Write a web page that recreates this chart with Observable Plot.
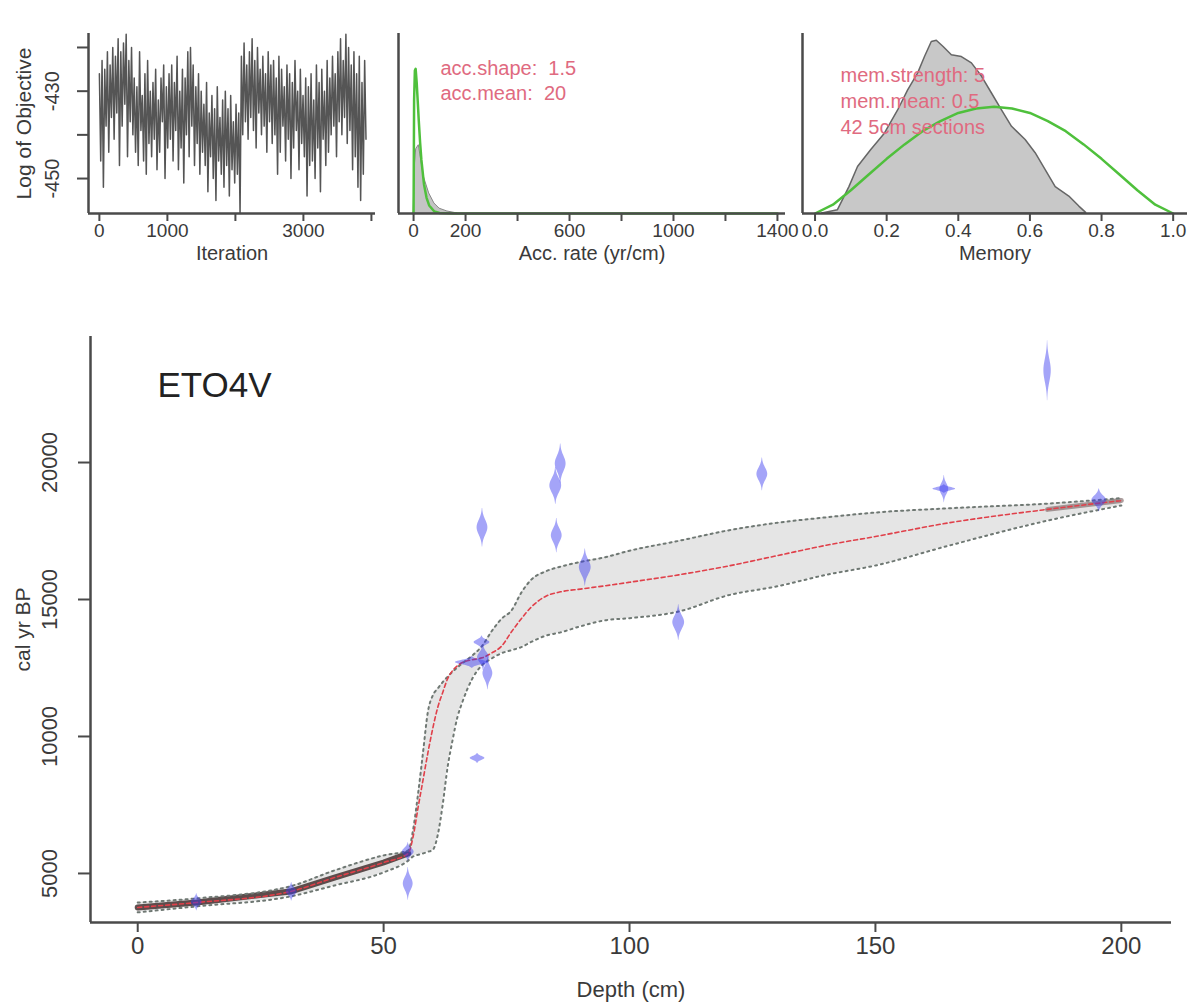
<!DOCTYPE html>
<html><head><meta charset="utf-8">
<script src="https://cdn.jsdelivr.net/npm/d3@7"></script>
<script src="https://cdn.jsdelivr.net/npm/@observablehq/plot@0.6"></script>
<style>
body{margin:0;background:#fff;}
#wrap{position:relative;width:1195px;height:1007px;overflow:hidden;background:#fff;}
#wrap svg{position:absolute;left:0;top:0;}
</style></head><body><div id="wrap"></div>
<script>
const FONT = '"Liberation Sans", Arial, Helvetica, sans-serif';
const AXIS = "#4a4a4a", TXT = "#3a3a3a";

// ---------- Panel 1: MCMC trace (log of objective) ----------
const iterStep = 19.7;
const trace = [
 -426,-446,-423,-452,-425,-438,-421,-444,-424,-436,
 -420,-441,-422,-435,-418,-447,-421,-438,-419,-433,-417,-445,-423,-437,-420,-440,
 -427,-444,-429,-447,-421,-439,-431,-446,-426,-449,-423,-442,-430,-445,-428,-441,-425,-448,-432,-444,-427,-437,-424,-450,-429,-443,
 -426,-441,-424,-446,-428,-439,-422,-448,-430,-443,-425,-451,-427,-440,-421,-445,-420,-438,-424,-447,-429,-442,-426,-449,-430,-444,
 -433,-447,-428,-453,-435,-445,-431,-450,-434,-455,-429,-446,-436,-449,-432,-452,-430,-447,-434,-454,-431,-448,-437,-451,-433,-449,-435,-458,
 -422,-440,-419,-437,-424,-441,-421,-436,-418,-439,-423,-443,-420,-435,-425,-440,-422,-438,-426,-444,-421,-437,-424,-442,
 -423,-440,-427,-449,-422,-444,-425,-438,-429,-446,-424,-441,-426,-450,-428,-443,-423,-439,-430,-448,-425,-442,-431,-445,-427,-454,-429,-447,
 -426,-446,-432,-450,-424,-443,-428,-453,-425,-441,-430,-447,-423,-444,-427,-440,-422,-438,-426,-445,
 -421,-437,-418,-440,-423,-436,-417,-442,-420,-439,-424,-448,-421,-445,-426,-452,-422,-455,-428,-449,-423,-441
];
const traceTicksX = [0, 1000, 2000, 3000, 4000];
const traceLabelsX = [0, 1000, 3000];
const traceTicksY = [-450, -440, -430, -420];
const traceLabelsY = [-450, -430];

// ---------- Panel 2: accumulation rate ----------
const accX      = [0, 2, 5, 8, 12, 16, 20, 25, 30, 40, 50, 60, 80, 100, 150, 200, 400, 800, 1400];
const accPrior  = [0, 0.0282, 0.0356, 0.0360, 0.0326, 0.0279, 0.0231, 0.0178, 0.0134, 0.0073, 0.0039, 0.0020, 0.0005, 0.00013, 0, 0, 0, 0, 0];
const accPostX  = [0, 5, 10, 20, 30, 40, 60, 80, 100, 130, 170];
const accPost   = [0, 0.012, 0.016, 0.017, 0.013, 0.009, 0.005, 0.0025, 0.0012, 0.0005, 0];
const accTicks  = [0, 200, 400, 600, 800, 1000, 1200, 1400];
const accLabels = [0, 200, 600, 1000, 1400];
const accLegend = ["acc.shape:  1.5", "acc.mean:  20"];

// ---------- Panel 3: memory ----------
const memPostX = [0.02, 0.064, 0.096, 0.12, 0.157, 0.195, 0.232, 0.26, 0.288, 0.307, 0.326, 0.34, 0.359, 0.382, 0.41, 0.438, 0.466, 0.494, 0.522, 0.55, 0.588, 0.616, 0.644, 0.672, 0.71, 0.738, 0.757];
const memPost  = [0, 0.053, 0.42, 0.74, 1.01, 1.27, 1.64, 1.96, 2.23, 2.49, 2.73, 2.75, 2.65, 2.52, 2.49, 2.39, 2.18, 1.91, 1.64, 1.38, 1.17, 0.96, 0.69, 0.42, 0.27, 0.11, 0.01];
const memPriorX = [0, 0.05, 0.1, 0.15, 0.2, 0.25, 0.3, 0.35, 0.4, 0.45, 0.5, 0.55, 0.6, 0.65, 0.7, 0.75, 0.8, 0.85, 0.9, 0.95, 1.0];
const memPrior  = [0, 0.14, 0.37, 0.62, 0.87, 1.10, 1.31, 1.47, 1.60, 1.67, 1.70, 1.67, 1.60, 1.47, 1.31, 1.10, 0.87, 0.62, 0.37, 0.14, 0];
const memTicks = [0, 0.2, 0.4, 0.6, 0.8, 1.0];
const memLegend = ["mem.strength: 5", "mem.mean: 0.5", "42 5cm sections"];

// ---------- Main panel: age-depth model ----------
const coreName = "ETO4V";
const gridDepth = [0, 12, 31, 40, 50, 55, 56, 57, 58, 59, 60, 61, 62, 63, 64, 65, 66, 68, 70, 72, 74, 76, 78, 80, 83, 86, 90, 95, 100, 110, 120, 130, 140, 150, 165, 185, 200];
const ageUpper = [3940, 4090, 4530, 5110, 5660, 5840, 6600, 7900, 9400, 10900, 11500, 11750, 11980, 12180, 12360, 12520, 12670, 12950, 13300, 13850, 14300, 14600, 15250, 15720, 16030, 16200, 16370, 16540, 16780, 17140, 17520, 17800, 18000, 18175, 18330, 18500, 18700];
const ageMean  = [3760, 3940, 4340, 4850, 5400, 5730, 6350, 7400, 8400, 9400, 10300, 11060, 11600, 12100, 12400, 12580, 12700, 12800, 12870, 13050, 13300, 13820, 14300, 14720, 15120, 15280, 15380, 15500, 15630, 15900, 16220, 16600, 16980, 17300, 17800, 18290, 18610];
const ageLower = [3580, 3800, 4160, 4560, 5040, 5470, 5620, 5680, 5730, 5790, 5860, 6400, 7500, 8870, 9850, 10700, 11250, 12100, 12600, 12850, 13040, 13150, 13260, 13450, 13680, 13800, 14020, 14240, 14320, 14560, 15150, 15480, 15900, 16240, 16970, 17880, 18430];

const dateDepth = [12, 31.3, 55, 55, 68, 70.3, 70, 71.2, 69.1, 70.1, 85, 86, 85.2, 91, 110, 127, 164, 164, 185, 195.5];
const dateAge   = [3950, 4330, 5780, 4620, 12700, 12880, 13430, 12300, 9200, 17620, 19150, 19950, 17330, 16170, 14160, 19570, 19030, 19030, 23350, 18620];
const dateSd    = [120, 130, 130, 230, 80, 180, 90, 230, 70, 270, 260, 280, 240, 260, 250, 230, 190, 60, 420, 160];
const dateHalfW = [1.1, 1.1, 1.2, 1.0, 3.4, 1.2, 1.6, 1.0, 1.5, 1.1, 1.2, 1.1, 1.1, 1.2, 1.2, 1.1, 0.9, 2.3, 0.75, 1.5];

const depthTicks = [0, 50, 100, 150, 200];
const ageTicks = [5000, 10000, 15000, 20000];

// ---------- helpers ----------
const wrap = document.getElementById("wrap");
const baseStyle = {background: "transparent", overflow: "visible", fontFamily: FONT, color: TXT};

function frameLines(xmin, ymin) {
  return [
    Plot.ruleX([xmin], {stroke: AXIS, strokeWidth: 2.5}),
    Plot.ruleY([ymin], {stroke: AXIS, strokeWidth: 2.5})
  ];
}
const topAxisX = (ticks, fmt) => Plot.axisX({ticks, tickFormat: fmt, tickSize: 8, tickPadding: 2, fontSize: 19, stroke: AXIS, strokeWidth: 2, label: null});
const topTitle = (t) => Plot.text([t], {frameAnchor: "bottom", dy: 46, fontSize: 20});

// ---------- Panel 1 ----------
const p1 = Plot.plot({
  width: 1195, height: 1007,
  marginLeft: 88, marginRight: 1195 - 375, marginTop: 33, marginBottom: 1007 - 213,
  style: baseStyle,
  x: {domain: [-160, 4060]},
  y: {domain: [-458, -416.8]},
  marks: [
    Plot.line(trace, {x: (d, i) => i * iterStep, y: d => d, stroke: "#555", strokeWidth: 1.5}),
    ...frameLines(-160, -458),
    topAxisX(traceTicksX, d => traceLabelsX.includes(d) ? String(d) : ""),
    Plot.axisY({ticks: traceTicksY, tickFormat: d => traceLabelsY.includes(d) ? String(d) : "", tickSize: 11, tickPadding: 19, tickRotate: -90, fontSize: 20, stroke: AXIS, strokeWidth: 2, label: null}),
    topTitle("Iteration"),
    Plot.text(["Log of Objective"], {frameAnchor: "left", dx: -64, rotate: -90, textAnchor: "middle", fontSize: 21})
  ]
});
wrap.appendChild(p1);

// ---------- Panel 2 ----------
const p2 = Plot.plot({
  width: 1195, height: 1007,
  marginLeft: 398, marginRight: 1195 - 785, marginTop: 33, marginBottom: 1007 - 213,
  style: baseStyle,
  x: {domain: [-58, 1431]},
  y: {domain: [0, 0.0448], axis: null},
  marks: [
    Plot.areaY(accPostX, {x: d => d, y: (d, i) => accPost[i], fill: "#c4c4c4", stroke: "#888", strokeWidth: 1}),
    Plot.line(accX, {x: d => d, y: (d, i) => accPrior[i], stroke: "#4fc03c", strokeWidth: 2.5}),
    ...frameLines(-58, 0),
    topAxisX(accTicks, d => accLabels.includes(d) ? String(d) : ""),
    Plot.text([accLegend.join("\n")], {frameAnchor: "top-left", dx: 42, dy: 24, lineAnchor: "top", textAnchor: "start", lineHeight: 1.25, fontSize: 20, fill: "#e06a80"}),
    topTitle("Acc. rate (yr/cm)")
  ]
});
wrap.appendChild(p2);

// ---------- Panel 3 ----------
const p3 = Plot.plot({
  width: 1195, height: 1007,
  marginLeft: 802, marginRight: 1195 - 1187, marginTop: 33, marginBottom: 1007 - 213,
  style: baseStyle,
  x: {domain: [-0.035, 1.04]},
  y: {domain: [0, 2.865], axis: null},
  marks: [
    Plot.areaY(memPostX, {x: d => d, y: (d, i) => memPost[i], fill: "#c8c8c8", stroke: "#666", strokeWidth: 1.5}),
    Plot.line(memPriorX, {x: d => d, y: (d, i) => memPrior[i], stroke: "#4fc03c", strokeWidth: 2.5}),
    ...frameLines(-0.035, 0),
    topAxisX(memTicks, d => d.toFixed(1)),
    Plot.text([memLegend.join("\n")], {frameAnchor: "top-left", dx: 38, dy: 30, lineAnchor: "top", textAnchor: "start", lineHeight: 1.3, fontSize: 20, fill: "#e06a80"}),
    topTitle("Memory")
  ]
});
wrap.appendChild(p3);

// ---------- Main panel ----------
const band = gridDepth.map((d, i) => ({depth: d, up: ageUpper[i], mean: ageMean[i], low: ageLower[i]}));
const shapes = [];
dateDepth.forEach((d, j) => {
  for (let k = -14; k <= 14; k++) {
    const t = k / 14 * 2.6;
    const hw = dateHalfW[j] * Math.exp(-t * t / 2);
    shapes.push({id: j, age: dateAge[j] + t * dateSd[j], xl: d - hw, xr: d + hw});
  }
});

const pm = Plot.plot({
  width: 1195, height: 1007,
  marginLeft: 90, marginRight: 24, marginTop: 336, marginBottom: 1007 - 922,
  style: baseStyle,
  x: {domain: [-9.6, 210.2]},
  y: {domain: [3210, 24600]},
  marks: [
    Plot.areaY(band, {x: "depth", y1: "low", y2: "up", fill: "#dadada", fillOpacity: 0.7, curve: "monotone-x"}),
    Plot.line(band.filter(d => d.depth <= 55), {x: "depth", y: "mean", stroke: "#3a2626", strokeWidth: 6, strokeOpacity: 0.8}),
    Plot.line(band.filter(d => d.depth >= 185), {x: "depth", y: "mean", stroke: "#6a5050", strokeWidth: 5, strokeOpacity: 0.55}),
    Plot.line(band, {x: "depth", y: "up", stroke: "#6f7873", strokeWidth: 2, strokeDasharray: "2,4", strokeLinecap: "round", curve: "monotone-x"}),
    Plot.line(band, {x: "depth", y: "low", stroke: "#6f7873", strokeWidth: 2, strokeDasharray: "2,4", strokeLinecap: "round", curve: "monotone-x"}),
    Plot.line(band, {x: "depth", y: "mean", stroke: "#e0404a", strokeWidth: 1.6, strokeDasharray: "4,3", curve: "monotone-x"}),
    Plot.areaX(shapes, {y: "age", x1: "xl", x2: "xr", z: "id", fill: "#3535f0", fillOpacity: 0.45}),
    ...frameLines(-9.6, 3210),
    Plot.axisX({ticks: depthTicks, tickSize: 10, tickPadding: 4, fontSize: 24, stroke: AXIS, strokeWidth: 2, label: null}),
    Plot.axisY({ticks: ageTicks, tickFormat: d => String(d), tickSize: 12, tickPadding: 22, tickRotate: -90, fontSize: 22, stroke: AXIS, strokeWidth: 2, label: null}),
    Plot.text([coreName], {frameAnchor: "top-left", dx: 67, dy: 36, lineAnchor: "top", textAnchor: "start", fontSize: 35, fill: "#222"}),
    Plot.text(["Depth (cm)"], {frameAnchor: "bottom", dy: 74, fontSize: 22}),
    Plot.text(["cal yr BP"], {frameAnchor: "left", dx: -67, rotate: -90, textAnchor: "middle", fontSize: 21})
  ]
});
wrap.appendChild(pm);
</script></body></html>
